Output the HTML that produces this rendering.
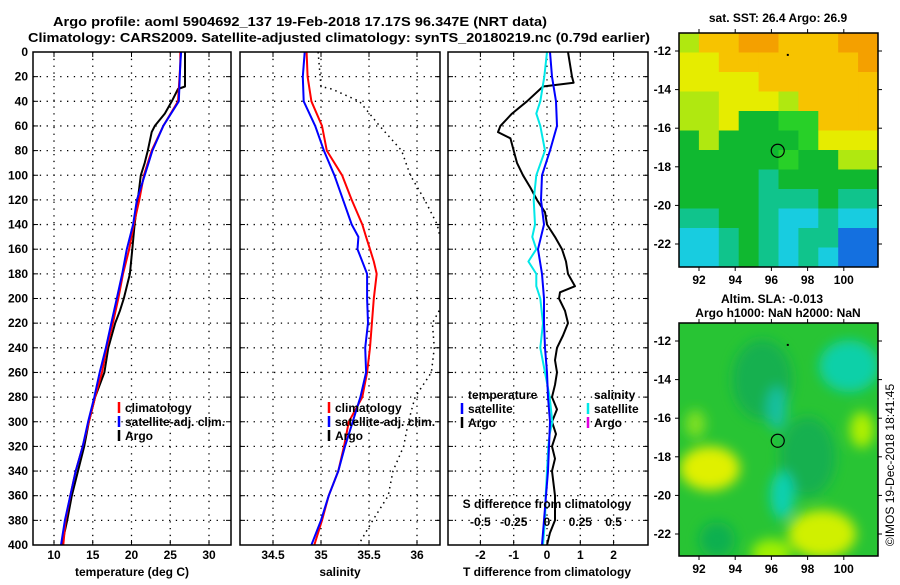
<!DOCTYPE html>
<html><head><meta charset="utf-8"><style>
html,body{margin:0;padding:0;background:#fff;}
svg text{font-family:"Liberation Sans",sans-serif;font-weight:bold;fill:#000;}
</style></head><body>
<svg id="chart" width="900" height="580" viewBox="0 0 900 580" xmlns="http://www.w3.org/2000/svg">
<defs>
<filter id="blur8" x="-50%" y="-50%" width="200%" height="200%"><feGaussianBlur stdDeviation="6"/></filter>
<clipPath id="clipP1"><rect x="33" y="52" width="198" height="493"/></clipPath>
<clipPath id="clipP2"><rect x="240" y="52" width="200" height="493"/></clipPath>
<clipPath id="clipP3"><rect x="448" y="52" width="200" height="493"/></clipPath>
<clipPath id="clipM1"><rect x="679" y="33" width="199" height="234"/></clipPath>
<clipPath id="clipM2"><rect x="679" y="323" width="199" height="233"/></clipPath>
</defs>
<text x="53" y="26" font-size="13" textLength="494" lengthAdjust="spacingAndGlyphs">Argo profile: aoml 5904692_137 19-Feb-2018 17.17S 96.347E (NRT data)</text>
<text x="28" y="42" font-size="13" textLength="622" lengthAdjust="spacingAndGlyphs">Climatology: CARS2009. Satellite-adjusted climatology: synTS_20180219.nc (0.79d earlier)</text>
<g id="grids"></g>
<g id="series"></g>
<g id="maps"></g>
<g id="frames"></g>
<g id="labels"></g>
<text transform="translate(894,465) rotate(-90)" font-size="12" text-anchor="middle" style="font-weight:normal">©IMOS 19-Dec-2018 18:41:45</text>
</svg>
<script>
// ---------- data ----------
const depthTicks = [0,20,40,60,80,100,120,140,160,180,200,220,240,260,280,300,320,340,360,380,400];
const tempTicks = [10,15,20,25,30];
const salTicks = [34.5,35,35.5,36];
const tdiffTicks = [-2,-1,0,1,2];
const sdiffTicks = [-0.5,-0.25,0,0.25,0.5];
const sdiffTickLabels = ["-0.5","-0.25","0","0.25","0.5"];

const argoTDepth = [0,28,30,40,50,60,65,80,90,100,110,140,160,180,200,210,220,240,260,280,300,320,340,360,380,400];
const argoT = [26.9,26.9,26.0,25.2,24.3,23.0,22.6,22.1,21.7,21.2,21.0,20.4,20.1,19.8,19.0,18.5,17.9,17.0,16.5,15.3,14.5,13.9,13.1,12.3,11.7,11.0];
const climDepth = [0,10,40,60,80,100,120,140,160,180,200,220,240,260,280,300,320,340,360,380,400];
const climT = [26.3,26.3,26.0,24.1,22.6,21.6,21.0,20.3,19.7,18.9,18.3,17.6,16.8,16.2,15.3,14.5,13.7,12.8,12.1,11.5,11.2];
const satT = [26.4,26.3,26.1,24.1,22.7,21.7,20.7,20.2,19.4,18.8,18.1,17.4,16.7,15.9,15.2,14.4,13.7,12.8,12.1,11.4,10.9];

const salDepth = [0,20,40,60,80,100,120,140,150,160,170,180,200,220,240,260,280,300,320,340,360,380,400];
const climS = [34.85,34.86,34.9,35.01,35.06,35.22,35.32,35.43,35.47,35.51,35.55,35.58,35.55,35.53,35.51,35.48,35.43,35.29,35.24,35.18,35.08,35.01,34.93];
const satS = [34.83,34.81,34.82,34.94,35.03,35.14,35.23,35.32,35.39,35.38,35.43,35.48,35.48,35.49,35.46,35.47,35.41,35.33,35.25,35.18,35.08,35.0,34.9];
const argoSDepth = [0,28,30,40,60,80,100,120,140,150,160,180,200,220,240,260,280,300,320,340,360,380,400];
const argoS = [34.97,35.0,35.11,35.4,35.61,35.84,35.93,36.08,36.21,36.24,36.3,36.35,36.3,36.16,36.18,36.15,35.98,35.91,35.86,35.75,35.7,35.54,35.39];

const tdDepth = [0,20,25,28,30,40,50,60,65,70,80,90,100,110,120,130,140,150,160,170,180,190,195,200,210,220,230,240,250,260,270,280,290,300,310,320,330,340,360,380,390,400];
const argoTDiff = [0.63,0.75,0.8,-0.12,-0.2,-0.6,-1.05,-1.4,-1.47,-1.1,-1.0,-0.9,-0.72,-0.5,-0.3,-0.06,0,0.24,0.45,0.57,0.63,0.84,0.39,0.36,0.54,0.63,0.48,0.3,0.24,0.3,0.24,0.15,0.3,0.15,0.27,0.15,0.24,0.15,0.24,0.24,0.09,0.0];
const dDepth = [0,20,40,60,80,100,120,140,160,180,200,220,240,260,280,300,320,340,360,380,400];
const satTDiff = [0.09,0.15,0.27,0.3,0.09,-0.15,-0.18,-0.09,-0.27,-0.15,-0.09,-0.09,-0.06,0,0.03,0.09,0.06,0.03,-0.03,-0.09,-0.15];
const sdDepth = [0,20,40,50,60,80,100,120,140,150,160,170,180,190,200,220,240,260,280,300,310,320,340,360,380,400];
const satSDiff = [0,-0.02,-0.05,-0.08,-0.05,-0.015,-0.08,-0.1,-0.09,-0.11,-0.08,-0.14,-0.08,-0.08,-0.05,-0.03,-0.05,-0.015,0.02,0.04,0.02,0.01,0,-0.01,-0.015,-0.03];

const mapLonTicks = [92,94,96,98,100];
const mapLatTicks = [-12,-14,-16,-18,-20,-22];
const sstGrid = [
 "yooOOoooOO",
 "YYoooooooO",
 "YYYYoooooo",
 "yyYYYyoooo",
 "yyYggGGooo",
 "gyggggGYYY",
 "gggggGggyy",
 "ggggTggggg",
 "ggggTTTgTT",
 "TTggTCCTCC",
 "CCTgTCTTBB",
 "CCTgTCTCBB"];
const sstColors = {O:"#f4a000",o:"#f7c300",Y:"#e6ec00",y:"#b0e810",G:"#28d028",g:"#10b830",T:"#10c48c",C:"#18cce0",B:"#1470e0"};
const slaBlobLon = [95.5,98.0,100.3,96.3,96.6,92.6,98.8,101.0,93.0,91.8,96.0];
const slaBlobLat = [-14.0,-18.0,-13.3,-15.5,-20.0,-18.6,-22.0,-16.6,-22.3,-16.3,-23.0];
const slaBlobColor = ["#18b050","#18b050","#10d0a8","#18c0a0","#10d0b0","#e0f000","#d0f000","#b0f000","#10b050","#80e020","#a0f000"];
const slaBlobRx = [30,28,30,10,12,30,34,12,18,10,20];
const slaBlobRy = [40,40,26,22,24,22,24,18,18,14,14];

// ---------- scales ----------
const NS="http://www.w3.org/2000/svg";
const yD = d => 52 + d*(493/400);
const xT = t => 54 + (t-10)*7.75;
const xS = s => 273 + (s-34.5)*96;
const xTd = t => 547 + t*33.3;
const xSd = s => 547 + s*133.2;
const mx = lon => 699 + (lon-92)*18.1;
const my1 = lat => 51 + (-12-lat)*19.3;
const my2 = lat => 341 + (-12-lat)*19.3;

function mk(tag, attrs, parent){const e=document.createElementNS(NS,tag);for(const k in attrs)e.setAttribute(k,attrs[k]);parent.appendChild(e);return e;}
const G=document.getElementById('grids'),S=document.getElementById('series'),F=document.getElementById('frames'),L=document.getElementById('labels'),M=document.getElementById('maps');

const panels=[{x0:33,x1:231,ticks:tempTicks,f:xT,name:'temperature'},{x0:240,x1:440,ticks:salTicks,f:xS,name:'salinity'},{x0:448,x1:648,ticks:tdiffTicks,f:xTd,name:'tdiff'}];
panels.forEach(p=>{
  depthTicks.slice(1,-1).forEach(d=>{
    const l=mk('line',{x1:p.x0,x2:p.x1,y1:yD(d),y2:yD(d),stroke:'#000','stroke-width':1.3,'stroke-dasharray':'1.3 5.5'},G);
    
    
    mk('line',{x1:p.x0,x2:p.x0+5,y1:yD(d),y2:yD(d),stroke:'#000'},G);
    mk('line',{x1:p.x1-5,x2:p.x1,y1:yD(d),y2:yD(d),stroke:'#000'},G);
  });
  p.ticks.forEach(t=>{
    const l=mk('line',{x1:p.f(t),x2:p.f(t),y1:52,y2:545,stroke:'#000','stroke-width':1.3,'stroke-dasharray':'1.3 5.5'},G);
    
    
    mk('line',{x1:p.f(t),x2:p.f(t),y1:52,y2:57,stroke:'#000'},G);
    mk('line',{x1:p.f(t),x2:p.f(t),y1:540,y2:545,stroke:'#000'},G);
  });
  const r=mk('rect',{x:p.x0,y:52,width:p.x1-p.x0,height:493,fill:'none',stroke:'#000','stroke-width':1.5},F);
  
  
});

function line(ds,vs,f,color,w,clip,name,dash){
  const pts=ds.map((d,i)=>f(vs[i]).toFixed(1)+','+yD(d).toFixed(1)).join(' ');
  const a={points:pts,fill:'none',stroke:color,'stroke-width':w,'clip-path':'url(#'+clip+')','stroke-linejoin':'round'};
  if(dash)a['stroke-dasharray']=dash;
  const e=mk('polyline',a,S);
  
  
}
line(argoTDepth,argoT,xT,'#000',2,'clipP1','argo-temperature-line');
line(climDepth,climT,xT,'#f00',2,'clipP1','climatology-temperature-line');
line(climDepth,satT,xT,'#00f',2,'clipP1','satellite-temperature-line');
line(argoSDepth,argoS,xS,'#000',1.5,'clipP2','argo-salinity-line','1.5 4');
line(salDepth,climS,xS,'#f00',2,'clipP2','climatology-salinity-line');
line(salDepth,satS,xS,'#00f',2,'clipP2','satellite-salinity-line');
line(tdDepth,argoTDiff,xTd,'#000',2,'clipP3','argo-temperature-difference-line');
line(sdDepth,satSDiff,xSd,'#00e8e8',2,'clipP3','satellite-salinity-difference-line');
line(dDepth,satTDiff,xTd,'#00f',2,'clipP3','satellite-temperature-difference-line');

function txt(x,y,s,anchor,size,parent){const e=mk('text',{x:x,y:y,'font-size':size||12,'text-anchor':anchor||'start'},parent||L);e.textContent=s;return e;}
depthTicks.forEach(d=>{const e=txt(28,yD(d)+4,String(d),'end');
  
  });
tempTicks.forEach(t=>{const e=txt(xT(t),559,String(t),'middle');
  
  });
salTicks.forEach(t=>{const e=txt(xS(t),559,String(t),'middle');
  
  });
tdiffTicks.forEach(t=>{const e=txt(xTd(t),559,String(t),'middle');
  
  });
sdiffTicks.forEach((t,i)=>{const e=txt(xSd(t),526,sdiffTickLabels[i],'middle');
  
  });
[['temperature (deg C)',132,'x-axis-title-temperature'],['salinity',340,'x-axis-title-salinity'],['T difference from climatology',547,'x-axis-title-t-difference']].forEach(a=>{
  const e=txt(a[1],576,a[0],'middle');
  
  });
{const e=txt(547,508,'S difference from climatology','middle');
  
  }

// legends
function leg(x,y,color,label,name){
  mk('line',{x1:x,x2:x,y1:y-10,y2:y+1,stroke:color,'stroke-width':2.5},L);
  const e=txt(x+6,y,label,'start');
  
  
}
leg(119,412,'#f00','climatology','legend-climatology-temperature');
leg(119,426,'#00f','satellite-adj. clim.','legend-satellite-temperature');
leg(119,440,'#000','Argo','legend-argo-temperature');
leg(329,412,'#f00','climatology','legend-climatology-salinity');
leg(329,426,'#00f','satellite-adj. clim.','legend-satellite-salinity');
leg(329,440,'#000','Argo','legend-argo-salinity');
{const e=txt(468,399,'temperature','start');
  
  }
{const e=txt(594,399,'salinity','start');
  
  }
leg(462,413,'#00f','satellite','legend-satellite-tdiff');
leg(462,427,'#000','Argo','legend-argo-tdiff');
leg(588,413,'#00e8e8','satellite','legend-satellite-sdiff');
leg(588,427,'#e000e0','Argo','legend-argo-sdiff');

// ---------- maps ----------
const cw=199/10, ch=234/12;
sstGrid.forEach((row,r)=>{[...row].forEach((c,k)=>{
  const e=mk('rect',{x:679+k*cw,y:33+r*ch,width:cw+0.5,height:ch+0.5,fill:sstColors[c]},M);
  
  
});});
const bg2=mk('rect',{x:679,y:323,width:199,height:233,fill:'#28c434'},M);


const blobG=mk('g',{'clip-path':'url(#clipM2)'},M);
const blobInner=mk('g',{filter:'url(#blur8)'},blobG);
slaBlobLon.forEach((lon,i)=>{
  const e=mk('ellipse',{cx:mx(lon),cy:my2(slaBlobLat[i]),rx:slaBlobRx[i],ry:slaBlobRy[i],fill:slaBlobColor[i]},blobInner);
  
  
});
[[my1,33,267,'sst'],[my2,323,556,'sla']].forEach(m=>{
  const f=m[0];
  const fr=mk('rect',{x:679,y:m[1],width:199,height:m[2]-m[1],fill:'none',stroke:'#000','stroke-width':1.5},M);
  
  
  mapLatTicks.forEach(lat=>{
    mk('line',{x1:675,x2:679,y1:f(lat),y2:f(lat),stroke:'#000'},M);
    mk('line',{x1:878,x2:882,y1:f(lat),y2:f(lat),stroke:'#000'},M);
    const e=txt(671,f(lat)+4,String(lat),'end',12,M);
    
    
  });
  mapLonTicks.forEach(lon=>{
    mk('line',{x1:mx(lon),x2:mx(lon),y1:m[1]-4,y2:m[1],stroke:'#000'},M);
    mk('line',{x1:mx(lon),x2:mx(lon),y1:m[2],y2:m[2]+4,stroke:'#000'},M);
    const e=txt(mx(lon),m[2]+17,String(lon),'middle',12,M);
    
    
  });
  const c=mk('circle',{cx:mx(96.35),cy:f(-17.17),r:6.5,fill:'none',stroke:'#000','stroke-width':1.2},M);
  
  
  mk('rect',{x:mx(96.85),y:f(-12.15),width:2,height:2,fill:'#000'},M);
});
{const e=txt(778,22,'sat. SST: 26.4 Argo: 26.9','middle',12,M);
  
  }
{const e=txt(772,303,'Altim. SLA: -0.013','middle',12,M);
  
  }
{const e=txt(778,317,'Argo h1000: NaN h2000: NaN','middle',12,M);
  
  }
</script>
</body></html>
